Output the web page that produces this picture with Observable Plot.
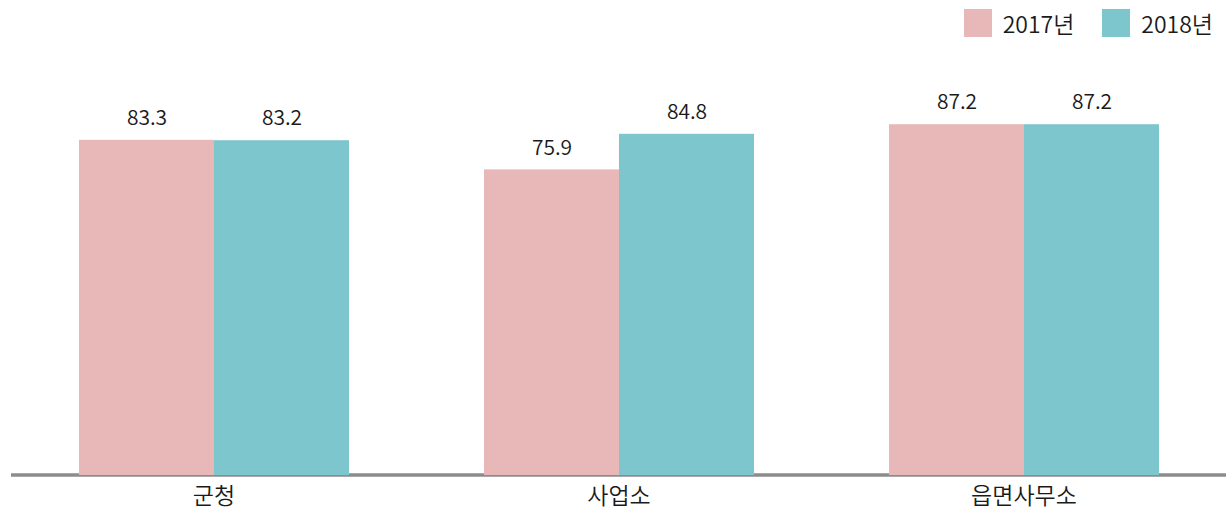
<!DOCTYPE html>
<html>
<head>
<meta charset="utf-8">
<script src="https://cdn.jsdelivr.net/npm/d3@7"></script>
<script src="https://cdn.jsdelivr.net/npm/@observablehq/plot@0.6"></script>
<style>
  html, body { margin: 0; padding: 0; background: #fff; }
  body { width: 1226px; height: 519px; overflow: hidden; font-family: "Noto Sans CJK KR", "Noto Sans", sans-serif; font-weight: 350; }
  #legend { height: 45px; display: flex; justify-content: flex-end; align-items: flex-start; padding-right: 13px; box-sizing: border-box; }
  .item { display: flex; align-items: center; margin-left: 28px; height: 28px; margin-top: 9px; font-size: 23px; color: #1a1a1a; }
  .sw { width: 28px; height: 28px; margin-right: 11px; }
  #chart svg { display: block; }
</style>
</head>
<body>
<div id="legend"></div>
<div id="chart"></div>
<script>
const categories = ["군청", "사업소", "읍면사무소"];
const years = ["2017년", "2018년"];
const values2017 = [83.3, 75.9, 87.2];
const values2018 = [83.2, 84.8, 87.2];
const colors = ["#E8B7B7", "#7EC6CD"];

const data = categories.flatMap((c, i) => [
  {category: c, year: years[0], value: values2017[i]},
  {category: c, year: years[1], value: values2018[i]}
]);

const legend = document.getElementById("legend");
years.forEach((y, i) => {
  const it = document.createElement("div");
  it.className = "item";
  const sw = document.createElement("div");
  sw.className = "sw";
  sw.style.background = colors[i];
  const t = document.createElement("span");
  t.textContent = y;
  it.appendChild(sw); it.appendChild(t);
  legend.appendChild(it);
});

const chart = Plot.plot({
  width: 1226,
  height: 474,
  marginLeft: 10,
  marginRight: 0,
  marginTop: 28,
  marginBottom: 46,
  style: {fontFamily: '"Noto Sans CJK KR", "Noto Sans", sans-serif', fontWeight: 350, background: "#fff"},
  fx: {domain: categories, padding: 0, axis: null},
  x: {domain: years, paddingInner: 0, paddingOuter: 0.5, axis: null},
  y: {domain: [0, 100], axis: null},
  color: {domain: years, range: colors},
  marks: [
    Plot.ruleY([0], {stroke: "#8c8c8c", strokeWidth: 3.3, dy: 1.5}),
    Plot.barY(data, {fx: "category", x: "year", y: "value", fill: "year", insetBottom: -2}),
    Plot.text(data, {fx: "category", x: "year", y: "value", text: d => d.value.toFixed(1), dy: -22, fontSize: 21, fill: "#1a1a1a"}),
    Plot.text(categories, {fx: d => d, text: d => d, frameAnchor: "bottom", dy: 30, fontSize: 23, fill: "#1a1a1a"})
  ]
});
document.getElementById("chart").appendChild(chart);
</script>
</body>
</html>
